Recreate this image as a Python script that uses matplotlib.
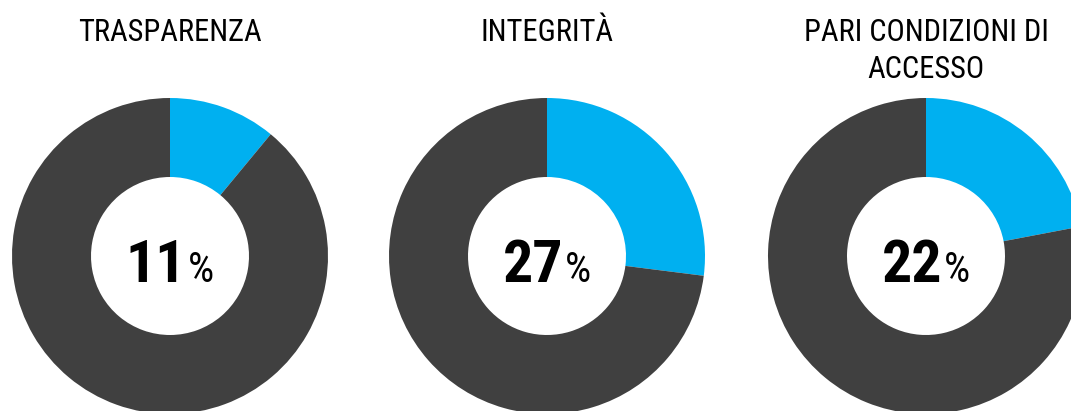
import matplotlib
matplotlib.use("Agg")
import matplotlib.pyplot as plt

titles = ["TRASPARENZA", "INTEGRITÀ", "PARI CONDIZIONI DI\nACCESSO"]
shares = [11, 27, 22]
labels = ["11", "27", "22"]

BLUE = "#00B0F0"
GREY = "#404040"
FONT = ["Roboto Condensed", "DejaVu Sans"]

W, H = 1071, 411
fig = plt.figure(figsize=(W / 100, H / 100), dpi=100)
fig.patch.set_facecolor("white")

centers_x = [170, 547, 926]
cy = 256
R = 158
lim = 1.02
half = R * lim

for cx, v in zip(centers_x, shares):
    ax = fig.add_axes([(cx - half) / W, (H - (cy + half)) / H, 2 * half / W, 2 * half / H])
    ax.pie([v, 100 - v], colors=[BLUE, GREY], startangle=90, counterclock=False,
           radius=1, wedgeprops=dict(width=0.5, edgecolor="none", linewidth=0))
    ax.set_xlim(-lim, lim)
    ax.set_ylim(-lim, lim)
    ax.set_aspect("equal")
    ax.axis("off")

tax = fig.add_axes([0, 0, 1, 1])
tax.set_xlim(0, W)
tax.set_ylim(H, 0)
tax.axis("off")
tax.patch.set_alpha(0)

# titles: first baseline at y=41, second line baseline 37 px lower
for cx, t in zip(centers_x, titles):
    for k, line in enumerate(t.split("\n")):
        tax.text(cx, 41 + 37 * k, line, ha="center", va="baseline", fontsize=22,
                 family=FONT, color="black")

fig.canvas.draw()
renderer = fig.canvas.get_renderer()
for cx, lab in zip(centers_x, labels):
    num = tax.text(0, 282, lab, ha="left", va="baseline", fontsize=43,
                   fontweight="bold", family=FONT, color="black")
    pct = tax.text(0, 282, "%", ha="left", va="baseline", fontsize=30,
                   family=FONT, color="black")
    wn = num.get_window_extent(renderer).width
    wp = pct.get_window_extent(renderer).width
    gap = 2
    total = wn + gap + wp
    x0 = cx - total / 2
    num.set_x(x0)
    pct.set_x(x0 + wn + gap)

fig.savefig("out.png", dpi=100, facecolor="white")
